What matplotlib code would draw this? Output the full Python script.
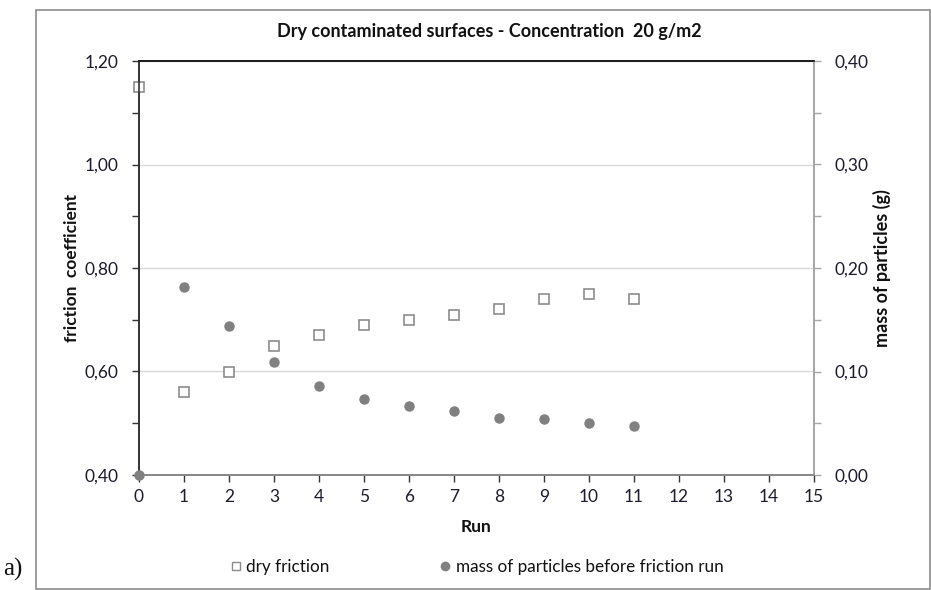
import matplotlib
matplotlib.use("Agg")
import matplotlib.pyplot as plt
from matplotlib.ticker import MultipleLocator, FuncFormatter
from matplotlib.lines import Line2D
from matplotlib.patches import Rectangle

plt.rcParams['font.family'] = ['Lato', 'DejaVu Sans']

runs = [0, 1, 2, 3, 4, 5, 6, 7, 8, 9, 10, 11]
dry_friction = [1.15, 0.56, 0.60, 0.65, 0.67, 0.69, 0.70, 0.71, 0.72, 0.74, 0.75, 0.74]
particle_mass = [0.000, 0.182, 0.144, 0.109, 0.086, 0.073, 0.067, 0.062, 0.055, 0.054, 0.050, 0.047]

title = "Dry contaminated surfaces - Concentration  20 g/m2"
text_col = "#1c1c2c"

fig = plt.figure(figsize=(9.31, 5.90), dpi=100)
W, H = 931, 590

# outer chart frame
fig.patches.append(Rectangle((36 / W, 1 / H), 894 / W, 579 / H, transform=fig.transFigure,
                             fill=False, edgecolor="#8c8c8c", linewidth=1.2))

ax = fig.add_axes([139 / W, 1 - 475 / H, 675 / W, 414 / H])
ax2 = ax.twinx()

comma = FuncFormatter(lambda v, p: f"{v:.2f}".replace(".", ","))

ax.set_xlim(0, 15)
ax.set_ylim(0.40, 1.20)
ax.xaxis.set_major_locator(MultipleLocator(1))
ax.yaxis.set_major_locator(MultipleLocator(0.2))
ax.yaxis.set_minor_locator(MultipleLocator(0.1))
ax.yaxis.set_major_formatter(comma)
ax.grid(axis="y", which="major", color="#d9d9d9", linewidth=1.0)
ax.set_axisbelow(True)

ax2.set_ylim(0.0, 0.40)
ax2.yaxis.set_major_locator(MultipleLocator(0.1))
ax2.yaxis.set_minor_locator(MultipleLocator(0.05))
ax2.yaxis.set_major_formatter(comma)

for a in (ax, ax2):
    a.spines["top"].set_color("#1a1a1a")
    a.spines["left"].set_color("#333333")
    a.spines["bottom"].set_color("#868686")
    a.spines["right"].set_color("#a6a6a6")
    for s in a.spines.values():
        s.set_linewidth(1.2)

ax.tick_params(axis="x", which="major", direction="out", length=5, width=1.0,
               color="#333333", labelsize=12.5, labelcolor=text_col, pad=5)
ax.tick_params(axis="y", which="both", direction="out", length=5, width=1.0,
               color="#333333", labelsize=12.5, labelcolor=text_col, pad=10)
ax2.tick_params(axis="y", which="both", direction="out", length=5, width=1.0,
                color="#a6a6a6", labelsize=12.5, labelcolor=text_col, pad=10)

ax.plot(runs, dry_friction, linestyle="none", marker="s", markersize=7,
        markerfacecolor="white", markeredgecolor="#8c8c8c", markeredgewidth=1.2,
        clip_on=False, zorder=3)
ax2.plot(runs, particle_mass, linestyle="none", marker="o", markersize=6.5,
         markerfacecolor="#808080", markeredgecolor="#808080", clip_on=False, zorder=3)

ax.set_xlabel("Run", fontsize=12.5, fontweight="bold", color="#111111", labelpad=10)
ax.set_ylabel("friction  coefficient", fontsize=12.5, fontweight="bold", color="#111111", labelpad=3)
ax2.set_ylabel("mass of particles (g)", fontsize=13, fontweight="bold", color="#111111",
               rotation=90, labelpad=3)

fig.text(489 / W, 1 - 31 / H, title, ha="center", va="center", fontsize=13,
         fontweight="bold", color="#111111")

handles = [
    Line2D([], [], linestyle="none", marker="s", markersize=6, markerfacecolor="white",
           markeredgecolor="#8c8c8c", markeredgewidth=1.0),
    Line2D([], [], linestyle="none", marker="o", markersize=6, markerfacecolor="#808080",
           markeredgecolor="#808080"),
]
fig.legend(handles, ["dry friction", "mass of particles before friction run"],
           loc="center", bbox_to_anchor=(477 / W, 1 - 567 / H), ncol=2, frameon=False,
           fontsize=12.3, handlelength=0.6, handletextpad=0.3, columnspacing=6.5,
           labelcolor="#111111")

fig.text(3 / W, 1 - 569 / H, "a)", ha="left", va="center", fontsize=18,
         family=["Liberation Serif", "DejaVu Serif"], color="#111111")

fig.savefig("out.png", dpi=100)
